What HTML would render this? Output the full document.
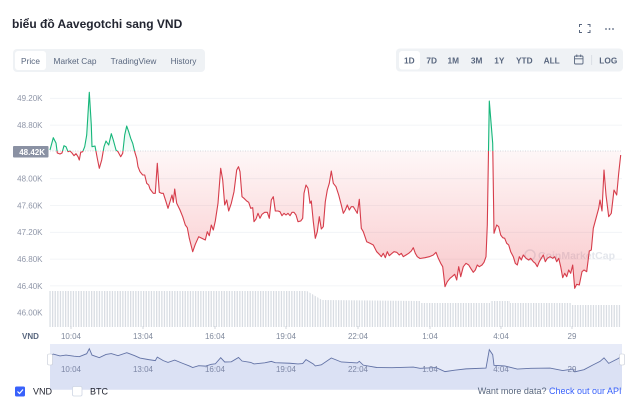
<!DOCTYPE html>
<html><head><meta charset="utf-8"><style>
html,body{margin:0;padding:0;background:#fff;}
svg{display:block;font-family:"Liberation Sans","Noto Sans CJK SC",sans-serif;}
</style></head><body>
<svg width="640" height="400" viewBox="0 0 640 400" xmlns="http://www.w3.org/2000/svg">
<defs>
<linearGradient id="gr" gradientUnits="userSpaceOnUse" x1="0" y1="151" x2="0" y2="290">
<stop offset="0" stop-color="#ea3943" stop-opacity="0.04"/>
<stop offset="1" stop-color="#ea3943" stop-opacity="0.28"/>
</linearGradient>
<linearGradient id="gg" gradientUnits="userSpaceOnUse" x1="0" y1="151" x2="0" y2="90">
<stop offset="0" stop-color="#16c784" stop-opacity="0.04"/>
<stop offset="1" stop-color="#16c784" stop-opacity="0.25"/>
</linearGradient>
<clipPath id="below"><rect x="0" y="151" width="640" height="150"/></clipPath>
<clipPath id="above"><rect x="0" y="0" width="640" height="151"/></clipPath>
<pattern id="vb" patternUnits="userSpaceOnUse" width="2.6" height="10">
<rect x="0" y="0" width="1.3" height="10" fill="#d9dde3"/>
</pattern>
</defs>

<!-- header -->
<text x="12" y="28" font-size="12" font-weight="bold" fill="#222531">biểu đồ Aavegotchi sang VND</text>
<g stroke="#58667e" stroke-width="1" fill="none">
<path d="M579.5,27 v-2.5 h2.5 M587.5,24.5 h2.5 v2.5 M590,30 v2.5 h-2.5 M582,32.5 h-2.5 v-2.5"/>
</g>
<g fill="#58667e"><circle cx="606" cy="29" r="0.9"/><circle cx="609.5" cy="29" r="0.9"/><circle cx="613" cy="29" r="0.9"/></g>

<!-- left tabs -->
<rect x="13" y="49" width="192" height="23" rx="4" fill="#eff2f5"/>
<rect x="15" y="51" width="31" height="19" rx="3" fill="#fff"/>
<g font-size="8.3" fill="#58667e" text-anchor="middle">
<text x="30.5" y="64">Price</text>
<text x="75" y="64">Market Cap</text>
<text x="133.5" y="64">TradingView</text>
<text x="183.5" y="64">History</text>
</g>

<!-- right tabs -->
<rect x="396" y="48.5" width="227" height="23" rx="4" fill="#eff2f5"/>
<rect x="399" y="51" width="21" height="18.5" rx="3" fill="#fff"/>
<g font-size="8.3" font-weight="bold" fill="#58667e" text-anchor="middle">
<text x="409.3" y="63.5">1D</text>
<text x="431.7" y="63.5">7D</text>
<text x="453.3" y="63.5">1M</text>
<text x="476.7" y="63.5">3M</text>
<text x="499.3" y="63.5">1Y</text>
<text x="524.3" y="63.5">YTD</text>
<text x="551.7" y="63.5">ALL</text>
<text x="608.3" y="63.5">LOG</text>
</g>
<g stroke="#58667e" stroke-width="0.9" fill="none">
<rect x="574.5" y="56" width="8.5" height="8" rx="1"/>
<path d="M574.5,58.8 h8.5 M576.8,54.5 v2.5 M580.7,54.5 v2.5"/>
</g>
<line x1="591.7" y1="55" x2="591.7" y2="65" stroke="#d5d9e0" stroke-width="0.8"/>

<!-- grid -->
<g stroke="#eff2f5" stroke-width="0.8">
<line x1="50" y1="98.3" x2="622" y2="98.3"/>
<line x1="50" y1="125.1" x2="622" y2="125.1"/>
<line x1="50" y1="178.7" x2="622" y2="178.7"/>
<line x1="50" y1="205.5" x2="622" y2="205.5"/>
<line x1="50" y1="232.3" x2="622" y2="232.3"/>
<line x1="50" y1="259.1" x2="622" y2="259.1"/>
<line x1="50" y1="285.9" x2="622" y2="285.9"/>
</g>

<!-- y labels -->
<g font-size="8" fill="#8f96a8" text-anchor="end">
<text x="42.5" y="101.2">49.20K</text>
<text x="42.5" y="128">48.80K</text>
<text x="42.5" y="181.6">48.00K</text>
<text x="42.5" y="208.4">47.60K</text>
<text x="42.5" y="235.2">47.20K</text>
<text x="42.5" y="262">46.80K</text>
<text x="42.5" y="288.8">46.40K</text>
<text x="42.5" y="315.6">46.00K</text>
</g>
<rect x="13" y="146" width="35.5" height="11.5" rx="1" fill="#8a91a3"/>
<text x="45" y="154.8" font-size="8" font-weight="bold" fill="#fff" text-anchor="end">48.42K</text>

<!-- volume bars -->
<path d="M49,291 L307,291 L322,300 L420,301 L420,303 L490,303 L490,301 L510,301 L510,303 L572,303 L572,305 L621,305 L621,327 L49,327 Z" fill="url(#vb)"/>

<!-- watermark -->
<circle cx="530" cy="255" r="5" fill="none" stroke="#e3e6ec" stroke-width="1.5"/>
<text x="538" y="259" font-size="10.5" font-weight="bold" fill="#e3e6ec">CoinMarketCap</text>

<!-- baseline -->
<line x1="50" y1="151" x2="622" y2="151" stroke="#c8cdd5" stroke-width="0.8" stroke-dasharray="1,1.5"/>

<!-- price fill -->
<polygon clip-path="url(#below)" fill="url(#gr)" points="50,151 50,150 53.3,137.7 56,143 57.3,153 60,154 62,153 64,145.7 66,146.7 68,151.7 70,151 72,153 74,155.7 76,153.7 78,156.7 79.3,160 80.7,152.3 82.7,151.7 84.7,146.7 86.7,135 89.3,92.3 91.3,125 92,146.7 95,146 97.3,158.3 99.3,168.3 101.7,160 104,146.7 106,141 108.7,145 111.3,133.7 113.3,140 116,150 118,151.7 120.7,156.7 122.7,153.3 124.7,135 126.7,126 128.7,131.7 130.7,138.3 132.7,143.3 134.7,151.7 136.7,158.3 138,166.7 140,171.7 142.7,175 144.7,175 146.7,183.3 148.7,185 150,189 153.3,193.3 155.3,193.3 157.3,163.3 159.3,192.3 161.3,193.3 163.3,193.3 166,201.7 168,208.3 170,201.7 172,195 173.3,202.3 174.7,189 176.7,203.3 180,210 182.7,216.7 185.3,225 187.3,227.7 189.3,238.3 192.7,251.7 195.3,244.3 198.7,236.7 203.3,239 205.3,240 207.3,231.7 209.3,235.7 211.3,225 213.3,230 215.3,221 218,203.3 220.7,168.3 222.7,180 224.7,205 226.7,200 228.7,211 231.3,203.3 234,191.7 236.7,170 238.5,166.7 240,171.7 242,196.7 244,198.3 246.7,201 248.7,202.3 250.7,208.3 252.7,207.7 254,221.7 256,219 258,213.3 260,218.3 262,214.3 264.7,212.3 267.3,212.3 269.3,218.3 271.3,200 273.3,196.7 275.3,211 278,211 280,211.7 282,215.7 284,213.3 286,215 288,213.3 290,215.7 292,212.3 294,212.3 296,215 298,221.7 300.7,221 302.7,218.3 304,193.3 306,185 308,188.3 310,203.3 311.3,201 313.3,221.7 315.3,238.3 317.3,231.7 319.3,216.7 321.3,229 323.3,226.7 325.3,201.7 327.3,190 329.3,183.3 331.3,171 333.3,183.3 336,186.7 338.7,195 341.3,205 343.3,213.3 345.3,210 347.3,205 349.3,210 351.3,206.7 353.3,206.7 355.3,210 357.3,213.3 359.3,199.3 361.3,228.3 363.3,231.7 366.7,241.7 370,243.3 373.3,245 376.7,251.7 379.3,254.3 381.3,256.7 383.3,253.3 385.3,257.7 387.3,251.7 389.3,255.7 392,253.3 394,251.7 396.7,252.3 399.3,255 401.3,253.3 403.3,256.7 406,255 408.7,253.3 411.3,251 413.3,247.7 415.3,253.3 417.3,256.7 420,258.5 425,257.7 429.3,256.7 433.3,255 436,252.3 438.3,258.3 440.7,263.3 442.7,266.7 445,286.7 447.3,281.7 450,278.3 452,276.7 454.7,274.3 456.7,280 458.7,266.7 460.7,276.7 463.3,266.7 466,263.3 468.7,265 470.7,268.3 473.3,272.3 475.3,270 477.3,265 479.3,266.7 482,265 484,262.3 486,256.7 487.3,225 489.3,101 490.7,118.3 492.7,143.3 494,233.3 496.7,225 498.7,226.7 500.7,235 502.7,237.7 504.7,238.3 506.7,243.3 508.7,245 510.7,251.7 513.3,256.7 515.3,263.3 517.3,265 519.3,256.7 521.3,260 523.3,255 526,258.3 528.7,260 530.7,258.3 533.3,261.7 535.3,263.3 537.3,266.7 539.3,261.7 541.3,258.3 543.3,255 545.3,261.7 547.3,258.3 550,256.7 552.7,258.3 554.7,256.7 556.7,261.7 558.7,258.3 560.7,266.7 562.7,277.7 564.7,273.3 566.7,276.7 568.7,270 570.7,273.3 572.7,265 574.7,288.3 576.7,284.3 579.3,285 582,271.7 584,270 586.7,271.7 589.3,251 591.3,250 593.3,228.3 596,218.3 598.7,208.3 600,200 602,211 604,170 606,195 608.7,216.7 611.3,213.3 614,190 616.7,195 618.7,173.3 620.7,155 620.7,151"/>
<polygon clip-path="url(#above)" fill="url(#gg)" points="50,151 50,150 53.3,137.7 56,143 57.3,153 60,154 62,153 64,145.7 66,146.7 68,151.7 70,151 72,153 74,155.7 76,153.7 78,156.7 79.3,160 80.7,152.3 82.7,151.7 84.7,146.7 86.7,135 89.3,92.3 91.3,125 92,146.7 95,146 97.3,158.3 99.3,168.3 101.7,160 104,146.7 106,141 108.7,145 111.3,133.7 113.3,140 116,150 118,151.7 120.7,156.7 122.7,153.3 124.7,135 126.7,126 128.7,131.7 130.7,138.3 132.7,143.3 134.7,151.7 136.7,158.3 138,166.7 486,166 487.3,225 489.3,101 490.7,118.3 492.7,143.3 494,233.3 494,151"/>

<!-- price lines -->
<polyline clip-path="url(#below)" fill="none" stroke="#d63d4b" stroke-width="1.1" stroke-linejoin="round" points="50,150 53.3,137.7 56,143 57.3,153 60,154 62,153 64,145.7 66,146.7 68,151.7 70,151 72,153 74,155.7 76,153.7 78,156.7 79.3,160 80.7,152.3 82.7,151.7 84.7,146.7 86.7,135 89.3,92.3 91.3,125 92,146.7 95,146 97.3,158.3 99.3,168.3 101.7,160 104,146.7 106,141 108.7,145 111.3,133.7 113.3,140 116,150 118,151.7 120.7,156.7 122.7,153.3 124.7,135 126.7,126 128.7,131.7 130.7,138.3 132.7,143.3 134.7,151.7 136.7,158.3 138,166.7 140,171.7 142.7,175 144.7,175 146.7,183.3 148.7,185 150,189 153.3,193.3 155.3,193.3 157.3,163.3 159.3,192.3 161.3,193.3 163.3,193.3 166,201.7 168,208.3 170,201.7 172,195 173.3,202.3 174.7,189 176.7,203.3 180,210 182.7,216.7 185.3,225 187.3,227.7 189.3,238.3 192.7,251.7 195.3,244.3 198.7,236.7 203.3,239 205.3,240 207.3,231.7 209.3,235.7 211.3,225 213.3,230 215.3,221 218,203.3 220.7,168.3 222.7,180 224.7,205 226.7,200 228.7,211 231.3,203.3 234,191.7 236.7,170 238.5,166.7 240,171.7 242,196.7 244,198.3 246.7,201 248.7,202.3 250.7,208.3 252.7,207.7 254,221.7 256,219 258,213.3 260,218.3 262,214.3 264.7,212.3 267.3,212.3 269.3,218.3 271.3,200 273.3,196.7 275.3,211 278,211 280,211.7 282,215.7 284,213.3 286,215 288,213.3 290,215.7 292,212.3 294,212.3 296,215 298,221.7 300.7,221 302.7,218.3 304,193.3 306,185 308,188.3 310,203.3 311.3,201 313.3,221.7 315.3,238.3 317.3,231.7 319.3,216.7 321.3,229 323.3,226.7 325.3,201.7 327.3,190 329.3,183.3 331.3,171 333.3,183.3 336,186.7 338.7,195 341.3,205 343.3,213.3 345.3,210 347.3,205 349.3,210 351.3,206.7 353.3,206.7 355.3,210 357.3,213.3 359.3,199.3 361.3,228.3 363.3,231.7 366.7,241.7 370,243.3 373.3,245 376.7,251.7 379.3,254.3 381.3,256.7 383.3,253.3 385.3,257.7 387.3,251.7 389.3,255.7 392,253.3 394,251.7 396.7,252.3 399.3,255 401.3,253.3 403.3,256.7 406,255 408.7,253.3 411.3,251 413.3,247.7 415.3,253.3 417.3,256.7 420,258.5 425,257.7 429.3,256.7 433.3,255 436,252.3 438.3,258.3 440.7,263.3 442.7,266.7 445,286.7 447.3,281.7 450,278.3 452,276.7 454.7,274.3 456.7,280 458.7,266.7 460.7,276.7 463.3,266.7 466,263.3 468.7,265 470.7,268.3 473.3,272.3 475.3,270 477.3,265 479.3,266.7 482,265 484,262.3 486,256.7 487.3,225 489.3,101 490.7,118.3 492.7,143.3 494,233.3 496.7,225 498.7,226.7 500.7,235 502.7,237.7 504.7,238.3 506.7,243.3 508.7,245 510.7,251.7 513.3,256.7 515.3,263.3 517.3,265 519.3,256.7 521.3,260 523.3,255 526,258.3 528.7,260 530.7,258.3 533.3,261.7 535.3,263.3 537.3,266.7 539.3,261.7 541.3,258.3 543.3,255 545.3,261.7 547.3,258.3 550,256.7 552.7,258.3 554.7,256.7 556.7,261.7 558.7,258.3 560.7,266.7 562.7,277.7 564.7,273.3 566.7,276.7 568.7,270 570.7,273.3 572.7,265 574.7,288.3 576.7,284.3 579.3,285 582,271.7 584,270 586.7,271.7 589.3,251 591.3,250 593.3,228.3 596,218.3 598.7,208.3 600,200 602,211 604,170 606,195 608.7,216.7 611.3,213.3 614,190 616.7,195 618.7,173.3 620.7,155"/>
<polyline clip-path="url(#above)" fill="none" stroke="#16b67a" stroke-width="1.1" stroke-linejoin="round" points="50,150 53.3,137.7 56,143 57.3,153 60,154 62,153 64,145.7 66,146.7 68,151.7 70,151 72,153 74,155.7 76,153.7 78,156.7 79.3,160 80.7,152.3 82.7,151.7 84.7,146.7 86.7,135 89.3,92.3 91.3,125 92,146.7 95,146 97.3,158.3 99.3,168.3 101.7,160 104,146.7 106,141 108.7,145 111.3,133.7 113.3,140 116,150 118,151.7 120.7,156.7 122.7,153.3 124.7,135 126.7,126 128.7,131.7 130.7,138.3 132.7,143.3 134.7,151.7 136.7,158.3 138,166.7"/>
<polyline clip-path="url(#above)" fill="none" stroke="#16b67a" stroke-width="1.1" stroke-linejoin="round" points="486,256.7 487.3,225 489.3,101 490.7,118.3 492.7,143.3 494,233.3"/>

<!-- x axis -->
<g stroke="#c8cdd5" stroke-width="0.8">
<line x1="71" y1="326" x2="71" y2="329"/><line x1="143" y1="326" x2="143" y2="329"/><line x1="215" y1="326" x2="215" y2="329"/><line x1="286" y1="326" x2="286" y2="329"/><line x1="358" y1="326" x2="358" y2="329"/><line x1="430" y1="326" x2="430" y2="329"/><line x1="501" y1="326" x2="501" y2="329"/><line x1="572" y1="326" x2="572" y2="329"/>
</g>
<text x="30.5" y="339" font-size="8" font-weight="bold" fill="#58667e" text-anchor="middle">VND</text>
<g font-size="8" fill="#808a9d" text-anchor="middle">
<text x="71" y="339">10:04</text><text x="143" y="339">13:04</text><text x="215" y="339">16:04</text><text x="286" y="339">19:04</text><text x="358" y="339">22:04</text><text x="430" y="339">1:04</text><text x="501" y="339">4:04</text><text x="572" y="339">29</text>
</g>

<!-- navigator -->
<rect x="50" y="344" width="572" height="33" fill="#e7ebf8"/>
<g transform="translate(0,355.5) scale(1,0.118) translate(0,-150)">
<polygon fill="#dbe1f4" points="50,440 50,150 53.3,137.7 60,154 66,146.7 74,155.7 79.3,160 86.7,135 89.3,92.3 92,146.7 99.3,168.3 106,141 111.3,133.7 118,151.7 126.7,126 134.7,151.7 140,171.7 148.7,185 155.3,193.3 157.3,163.3 163.3,193.3 168,208.3 174.7,189 182.7,216.7 189.3,238.3 192.7,251.7 198.7,236.7 205.3,240 211.3,225 215.3,221 220.7,168.3 224.7,205 231.3,203.3 238.5,166.7 242,196.7 250.7,208.3 254,221.7 264.7,212.3 271.3,200 275.3,211 290,215.7 298,221.7 302.7,218.3 306,185 313.3,221.7 315.3,238.3 321.3,229 331.3,171 341.3,205 357.3,213.3 359.3,199.3 363.3,231.7 376.7,251.7 392,253.3 413.3,247.7 420,258.5 436,252.3 445,286.7 454.7,274.3 466,263.3 486,256.7 489.3,101 492.7,143.3 494,233.3 504.7,238.3 517.3,265 530.7,258.3 550,256.7 562.7,277.7 572.7,265 574.7,288.3 584,270 593.3,228.3 600,200 604,170 608.7,216.7 618.7,173.3 620.7,155 622,155 622,440"/>
<polyline fill="none" stroke="#6373a6" stroke-width="0.9" vector-effect="non-scaling-stroke" points="50,150 53.3,137.7 60,154 66,146.7 74,155.7 79.3,160 86.7,135 89.3,92.3 92,146.7 99.3,168.3 106,141 111.3,133.7 118,151.7 126.7,126 134.7,151.7 140,171.7 148.7,185 155.3,193.3 157.3,163.3 163.3,193.3 168,208.3 174.7,189 182.7,216.7 189.3,238.3 192.7,251.7 198.7,236.7 205.3,240 211.3,225 215.3,221 220.7,168.3 224.7,205 231.3,203.3 238.5,166.7 242,196.7 250.7,208.3 254,221.7 264.7,212.3 271.3,200 275.3,211 290,215.7 298,221.7 302.7,218.3 306,185 313.3,221.7 315.3,238.3 321.3,229 331.3,171 341.3,205 357.3,213.3 359.3,199.3 363.3,231.7 376.7,251.7 392,253.3 413.3,247.7 420,258.5 436,252.3 445,286.7 454.7,274.3 466,263.3 486,256.7 489.3,101 492.7,143.3 494,233.3 504.7,238.3 517.3,265 530.7,258.3 550,256.7 562.7,277.7 572.7,265 574.7,288.3 584,270 593.3,228.3 600,200 604,170 608.7,216.7 618.7,173.3 620.7,155"/>
</g>
<g font-size="8" fill="#7d87a6" text-anchor="middle">
<text x="71" y="372">10:04</text><text x="143" y="372">13:04</text><text x="215" y="372">16:04</text><text x="286" y="372">19:04</text><text x="358" y="372">22:04</text><text x="430" y="372">1:04</text><text x="501" y="372">4:04</text><text x="572" y="372">29</text>
</g>
<rect x="47.5" y="354" width="5" height="11" rx="1.5" fill="#fff" stroke="#c5cad6" stroke-width="0.6"/>
<rect x="619.5" y="354" width="5" height="11" rx="1.5" fill="#fff" stroke="#c5cad6" stroke-width="0.6"/>

<!-- legend -->
<rect x="15" y="386.5" width="10" height="10" rx="1.5" fill="#3861fb"/>
<path d="M17.5,391.5 l2,2 l3.5,-4" stroke="#fff" stroke-width="1.2" fill="none"/>
<text x="33" y="394.5" font-size="9" fill="#222531">VND</text>
<rect x="72.5" y="386.5" width="9.5" height="9.5" rx="1.5" fill="#fff" stroke="#cfd6e4" stroke-width="0.8"/>
<text x="90" y="394.5" font-size="9" fill="#222531">BTC</text>
<text x="621.5" y="394" font-size="9" text-anchor="end" fill="#58667e">Want more data? <tspan fill="#3861fb">Check out our API</tspan></text>
</svg>
</body></html>
